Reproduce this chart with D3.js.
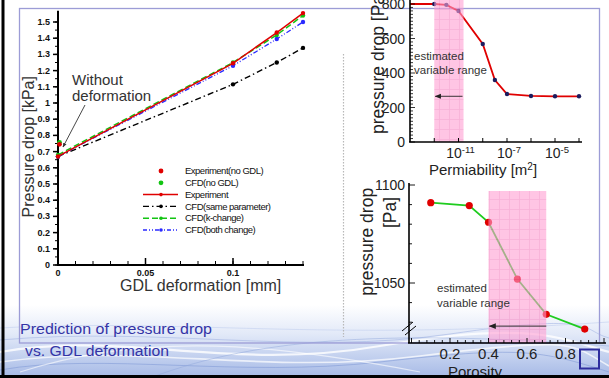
<!DOCTYPE html>
<html>
<head>
<meta charset="utf-8">
<script src="https://cdn.jsdelivr.net/npm/d3@7/dist/d3.min.js"></script>
<style>
  body { margin: 0; background: #fff; }
  svg { display: block; }
  text { font-family: "Liberation Sans", Arial, sans-serif; }
</style>
</head>
<body>
<svg id="slide" width="609" height="378"></svg>
<script>
// left chart: pressure drop [kPa] vs GDL deformation [mm]
const deformation = [0, 0.1, 0.125, 0.14];
const experiment = [0.67, 1.245, 1.435, 1.555];
const cfdSameParam = [0.67, 1.115, 1.25, 1.34];
const cfdKChange = [0.68, 1.25, 1.42, 1.54];
const cfdBothChange = [0.67, 1.23, 1.395, 1.50];
const expNoGdl = 0.745;
const cfdNoGdl = 0.757;
const deformTicks = [0, 0.05, 0.1];
const deformTickLabels = ['0', '0.05', '0.1'];
const kpaTicks = [0, 0.1, 0.2, 0.3, 0.4, 0.5, 0.6, 0.7, 0.8, 0.9, 1, 1.1, 1.2, 1.3, 1.4, 1.5];
const kpaTickLabels = ['0', '0.1', '0.2', '0.3', '0.4', '0.5', '0.6', '0.7', '0.8', '0.9', '1', '1.1', '1.2', '1.3', '1.4', '1.5'];
const legendLabels = ['Experiment(no GDL)', 'CFD(no GDL)', 'Experiment', 'CFD(same parameter)', 'CFD(k-change)', 'CFD(both change)'];

// top right: pressure drop [Pa] vs permeability [m2]
const permeability = [1e-15, 1e-13, 1e-12, 1e-11, 1e-9, 1e-8, 1e-7, 1e-6, 1e-5, 1e-4];
const permDrop = [800, 800, 795, 759, 568, 359, 278, 267, 265, 265];
const permTicks = [1e-13, 1e-11, 1e-9, 1e-7, 1e-6, 1e-5, 1e-4];
const permLabelTicks = [1e-11, 1e-7, 1e-5];
const permLabelExp = ['-11', '-7', '-5'];
const permRange = [1e-13, 2.6e-11];
const permPaTicks = [0, 200, 400, 600, 800];

// bottom right: pressure drop [Pa] vs porosity
const porosity = [0.1, 0.3, 0.4, 0.55, 0.7, 0.9];
const porosityDrop = [1091, 1089.5, 1081, 1052, 1034, 1026.5];
const porosityTicks = [0.2, 0.4, 0.6, 0.8];
const porosityPaTicks = [1050, 1100];
const porosityRange = [0.4, 0.7];

const svg = d3.select('#slide');
const defs = svg.append('defs');

const grad = defs.append('linearGradient').attr('id', 'waveBg')
  .attr('x1', 0).attr('y1', 0).attr('x2', 0).attr('y2', 1);
grad.append('stop').attr('offset', '0%').attr('stop-color', '#ffffff');
grad.append('stop').attr('offset', '40%').attr('stop-color', '#e2e9f8');
grad.append('stop').attr('offset', '100%').attr('stop-color', '#a5b9e6');

const pat = defs.append('pattern').attr('id', 'pinkGrid')
  .attr('width', 10).attr('height', 10).attr('patternUnits', 'userSpaceOnUse');
pat.append('rect').attr('width', 10).attr('height', 10).attr('fill', '#ff9fd2');
pat.append('path').attr('d', 'M9.5 0V10M0 9.5H10').attr('stroke', '#f27cbc').attr('stroke-width', 0.8);

function arrowMarker(id, color, size) {
  defs.append('marker').attr('id', id)
    .attr('viewBox', '0 0 10 10').attr('refX', 9).attr('refY', 5)
    .attr('markerWidth', size).attr('markerHeight', size)
    .attr('orient', 'auto-start-reverse')
    .append('path').attr('d', 'M0,1L10,5L0,9Z').attr('fill', color);
}
arrowMarker('arrDark', '#333', 5);
arrowMarker('arrThin', '#222', 7);

// ---- background waves (bottom of the slide) ----
const bg = svg.append('g');
bg.append('rect').attr('x', 0).attr('y', 305).attr('width', 609).attr('height', 73).attr('fill', 'url(#waveBg)');
const wavePaths = [
  ['M0,352 C120,330 230,372 380,346 S560,338 609,352', '#ffffff', 2.2, 0.8],
  ['M0,362 C140,342 260,376 420,356 S570,344 609,366', '#ffffff', 1.6, 0.7],
  ['M0,340 C160,326 300,356 450,334 S580,330 609,338', '#9fb2e2', 0.7, 0.8],
  ['M0,370 C100,352 240,378 380,362 S540,350 609,372', '#8098d6', 0.7, 0.8],
  ['M20,372 C150,330 280,345 420,372', '#ffffff', 1.2, 0.6],
  ['M150,378 C260,336 400,330 609,346', '#90a6dc', 0.6, 0.8],
  ['M0,328 C180,318 320,342 609,322', '#c5d2ef', 0.8, 0.8]
];
bg.selectAll('path').data(wavePaths).enter().append('path')
  .attr('d', d => d[0]).attr('fill', 'none')
  .attr('stroke', d => d[1]).attr('stroke-width', d => d[2]).attr('opacity', d => d[3]);

// slide frame
svg.append('rect').attr('x', 19.5).attr('y', 8.5).attr('width', 580).attr('height', 334.5)
  .attr('fill', 'none').attr('stroke', '#9c9cd6').attr('stroke-width', 1.3);

// dotted divider
svg.append('line').attr('x1', 343.5).attr('x2', 343.5).attr('y1', 54).attr('y2', 337)
  .attr('stroke', '#b8b8b8').attr('stroke-width', 1.2).attr('stroke-dasharray', '1.5,1.5');

// caption
svg.append('text').attr('x', 20).attr('y', 334).attr('font-family', '"DejaVu Sans Mono", monospace')
  .attr('font-size', 14).attr('fill', '#3434a6').attr('textLength', 192).attr('lengthAdjust', 'spacingAndGlyphs')
  .text('Prediction of pressure drop');
svg.append('text').attr('x', 25).attr('y', 356).attr('font-family', '"DejaVu Sans Mono", monospace')
  .attr('font-size', 14).attr('fill', '#3434a6').attr('textLength', 144).attr('lengthAdjust', 'spacingAndGlyphs')
  .text('vs. GDL deformation');

// ================= LEFT CHART =================
const mx = d3.scaleLinear().domain([0, 0.14]).range([58, 303]);
const my = d3.scaleLinear().domain([0, 1.5]).range([265, 22]);
const left = svg.append('g');

// y axis
left.append('line').attr('x1', mx(0)).attr('x2', mx(0)).attr('y1', my(0) + 1).attr('y2', my(1.57))
  .attr('stroke', '#000').attr('stroke-width', 2);
left.selectAll('.ymin').data(d3.range(0, 31).map(i => i * 0.05)).enter().append('line')
  .attr('x1', mx(0) - 3).attr('x2', mx(0)).attr('y1', d => my(d)).attr('y2', d => my(d))
  .attr('stroke', '#000').attr('stroke-width', 1);
left.selectAll('.ymaj').data(kpaTicks).enter().append('line')
  .attr('x1', mx(0) - 5).attr('x2', mx(0)).attr('y1', d => my(d)).attr('y2', d => my(d))
  .attr('stroke', '#000').attr('stroke-width', 1.5);
left.selectAll('.ylab').data(kpaTicks).enter().append('text')
  .attr('x', mx(0) - 8).attr('y', d => my(d) + 3)
  .attr('text-anchor', 'end').attr('font-family', '"Liberation Serif", serif').attr('font-weight', 'bold')
  .attr('font-size', 9).attr('fill', '#111')
  .text((d, i) => kpaTickLabels[i]);

// x axis
left.append('line').attr('x1', mx(0) - 1).attr('x2', mx(0.14) + 1).attr('y1', my(0)).attr('y2', my(0))
  .attr('stroke', '#000').attr('stroke-width', 2);
left.selectAll('.xmin').data(d3.range(0, 15).map(i => i * 0.01)).enter().append('line')
  .attr('x1', d => mx(d)).attr('x2', d => mx(d)).attr('y1', my(0)).attr('y2', my(0) - 4)
  .attr('stroke', '#000').attr('stroke-width', 1);
left.selectAll('.xmaj').data(deformTicks).enter().append('line')
  .attr('x1', d => mx(d)).attr('x2', d => mx(d)).attr('y1', my(0)).attr('y2', my(0) - 7)
  .attr('stroke', '#000').attr('stroke-width', 1.5);
left.selectAll('.xlab').data(deformTicks).enter().append('text')
  .attr('x', d => mx(d)).attr('y', my(0) + 11)
  .attr('text-anchor', 'middle').attr('font-family', '"Liberation Serif", serif').attr('font-weight', 'bold')
  .attr('font-size', 9).attr('fill', '#111')
  .text((d, i) => deformTickLabels[i]);

left.append('text').attr('x', mx(0.0815)).attr('y', 291).attr('text-anchor', 'middle')
  .attr('font-size', 16).attr('fill', '#333').text('GDL deformation [mm]');
left.append('text').attr('transform', `translate(34,${my(0.73)}) rotate(-90)`).attr('text-anchor', 'middle')
  .attr('font-size', 16).attr('fill', '#333').text('Pressure drop [kPa]');

const mainSeries = [
  { name: 'Experiment', values: experiment, color: '#e00000', dash: null, width: 1.5 },
  { name: 'CFD(same parameter)', values: cfdSameParam, color: '#000000', dash: '6,3,1.5,3', width: 1.4 },
  { name: 'CFD(k-change)', values: cfdKChange, color: '#12c412', dash: '6,3', width: 1.5 },
  { name: 'CFD(both change)', values: cfdBothChange, color: '#2a2aff', dash: '5,2,1,2,1,2', width: 1.3 }
];
const mainLine = d3.line().x((d, i) => mx(deformation[i])).y(d => my(d));
const order = [1, 3, 2, 0];
order.forEach(k => {
  const s = mainSeries[k];
  left.append('path').attr('d', mainLine(s.values)).attr('fill', 'none')
    .attr('stroke', s.color).attr('stroke-width', s.width).attr('stroke-dasharray', s.dash);
  left.selectAll(null).data(s.values).enter().append('circle')
    .attr('cx', (d, i) => mx(deformation[i])).attr('cy', d => my(d)).attr('r', 2.2).attr('fill', s.color);
});
left.append('circle').attr('cx', mx(0) + 1.5).attr('cy', my(cfdNoGdl)).attr('r', 2.4).attr('fill', '#12c412');
left.append('circle').attr('cx', mx(0) + 1.5).attr('cy', my(expNoGdl)).attr('r', 2.4).attr('fill', '#e00000');

// annotation
left.append('text').attr('x', 72).attr('y', 85).attr('font-size', 15).attr('fill', '#333').text('Without');
left.append('text').attr('x', 72).attr('y', 101).attr('font-size', 15).attr('fill', '#333').text('deformation');
left.append('line').attr('x1', 85).attr('y1', 105).attr('x2', 63).attr('y2', 147)
  .attr('stroke', '#333').attr('stroke-width', 0.9).attr('marker-end', 'url(#arrDark)');

// legend
const legendStyles = [
  { color: '#e00000', dash: null, line: false },
  { color: '#12c412', dash: null, line: false },
  { color: '#e00000', dash: null, line: true, width: 1.5 },
  { color: '#000000', dash: '6,3,1.5,3', line: true, width: 1.4 },
  { color: '#12c412', dash: '6,3', line: true, width: 1.5 },
  { color: '#2a2aff', dash: '4,2,1,2,1,2', line: true, width: 1.3 }
];
const legendY = d3.scalePoint().domain(legendLabels).range([171, 230]);
const lg = left.append('g');
legendLabels.forEach((label, i) => {
  const st = legendStyles[i];
  const y = legendY(label);
  if (st.line) {
    lg.append('line').attr('x1', 143).attr('x2', 178).attr('y1', y).attr('y2', y)
      .attr('stroke', st.color).attr('stroke-width', st.width).attr('stroke-dasharray', st.dash);
  }
  lg.append('circle').attr('cx', 161).attr('cy', y).attr('r', st.line ? 1.8 : 2.4).attr('fill', st.color);
  lg.append('text').attr('x', 185).attr('y', y + 3.2)
    .attr('font-family', '"Liberation Sans Narrow", "Liberation Sans", Arial, sans-serif')
    .attr('font-size', 9.5).attr('letter-spacing', -0.5).attr('fill', '#111').text(label);
});

// ================= TOP RIGHT CHART =================
const px = d3.scaleLog().domain([1e-15, 1e-7, 1e-4]).range([410, 507, 579]);
const py = d3.scaleLinear().domain([0, 800]).range([142, 4]);
const tr = svg.append('g');

tr.append('text').attr('transform', 'translate(384,134) rotate(-90)').attr('font-size', 17.5)
  .attr('fill', '#222').text('pressure drop [Pa]');

const permLine = d3.line().x((d, i) => px(permeability[i])).y(d => py(d));
tr.append('path').attr('d', permLine(permDrop)).attr('fill', 'none')
  .attr('stroke', '#e00000').attr('stroke-width', 1.8);
tr.selectAll('.pp').data(permDrop.slice(1)).enter().append('circle')
  .attr('cx', (d, i) => px(permeability[i + 1])).attr('cy', d => py(d)).attr('r', 2.2).attr('fill', '#1c1c5e');

tr.append('rect').attr('x', px(permRange[0])).attr('y', 0)
  .attr('width', px(permRange[1]) - px(permRange[0])).attr('height', py(0))
  .attr('fill', 'url(#pinkGrid)').attr('opacity', 0.6);
tr.append('line').attr('x1', px(permRange[1]) - 1).attr('x2', px(permRange[0]) + 1)
  .attr('y1', py(265)).attr('y2', py(265)).attr('stroke', '#222').attr('stroke-width', 0.9)
  .attr('marker-end', 'url(#arrThin)');
tr.append('text').attr('x', 414).attr('y', 60).attr('font-size', 11.5).attr('fill', '#333').text('estimated');
tr.append('text').attr('x', 414).attr('y', 74).attr('font-size', 11.5).attr('fill', '#333').text('variable range');

// axes
tr.append('line').attr('x1', 410).attr('x2', 410).attr('y1', 0).attr('y2', py(0))
  .attr('stroke', '#000').attr('stroke-width', 1.6);
tr.append('line').attr('x1', 409).attr('x2', 582).attr('y1', py(0)).attr('y2', py(0))
  .attr('stroke', '#000').attr('stroke-width', 1.6);
tr.selectAll('.pymin').data(d3.range(0, 41).map(i => i * 20)).enter().append('line')
  .attr('x1', 410).attr('x2', d => 410 + (d % 200 === 0 ? 5 : 3)).attr('y1', d => py(d)).attr('y2', d => py(d))
  .attr('stroke', '#000').attr('stroke-width', 0.8);
tr.selectAll('.pylab').data(permPaTicks).enter().append('text')
  .attr('x', 405).attr('y', d => py(d) + 5).attr('text-anchor', 'end')
  .attr('font-size', 14).attr('fill', '#222').text(d => d);
tr.selectAll('.pxt').data(permTicks).enter().append('line')
  .attr('x1', d => px(d)).attr('x2', d => px(d)).attr('y1', py(0)).attr('y2', py(0) - 4)
  .attr('stroke', '#000').attr('stroke-width', 1);
const pxl = tr.selectAll('.pxl').data(permLabelTicks).enter().append('text')
  .attr('x', d => px(d) + 2).attr('y', 158).attr('text-anchor', 'middle').attr('fill', '#222');
pxl.append('tspan').attr('font-size', 14).text('10');
pxl.append('tspan').attr('font-size', 9.5).attr('dy', -5).text((d, i) => permLabelExp[i]);
const permTitle = tr.append('text').attr('x', 483).attr('y', 175).attr('text-anchor', 'middle')
  .attr('font-size', 15).attr('fill', '#222');
permTitle.append('tspan').text('Permiability [m');
permTitle.append('tspan').attr('font-size', 10).attr('dy', -5).text('2');
permTitle.append('tspan').attr('dy', 5).text(']');

// ================= BOTTOM RIGHT CHART =================
const qx = d3.scaleLinear().domain([0, 1]).range([411.5, 604]);
const qy = d3.scaleLinear().domain([1050, 1100]).range([283, 185]);
const br = svg.append('g');
const axisY = 343;

br.append('text').attr('transform', `translate(373,${qy(1071)}) rotate(-90)`).attr('text-anchor', 'middle')
  .attr('font-size', 17.5).attr('fill', '#222').text('pressure drop');
br.append('text').attr('transform', `translate(396,${qy(1086)}) rotate(-90)`).attr('text-anchor', 'middle')
  .attr('font-size', 17.5).attr('fill', '#222').text('[Pa]');

const poroLine = d3.line().x((d, i) => qx(porosity[i])).y(d => qy(d));
br.append('path').attr('d', poroLine(porosityDrop)).attr('fill', 'none')
  .attr('stroke', '#1fcc1f').attr('stroke-width', 1.8);
br.selectAll('.qp').data(porosityDrop).enter().append('circle')
  .attr('cx', (d, i) => qx(porosity[i])).attr('cy', d => qy(d)).attr('r', 3.6).attr('fill', '#e00000');

br.append('rect').attr('x', qx(porosityRange[0])).attr('y', 191)
  .attr('width', qx(porosityRange[1]) - qx(porosityRange[0])).attr('height', axisY - 191)
  .attr('fill', 'url(#pinkGrid)').attr('opacity', 0.6);
br.append('line').attr('x1', qx(porosityRange[1])).attr('x2', qx(porosityRange[0]) + 1)
  .attr('y1', qy(1028)).attr('y2', qy(1028)).attr('stroke', '#333').attr('stroke-width', 1)
  .attr('marker-end', 'url(#arrThin)');
br.append('text').attr('x', 437).attr('y', 292).attr('font-size', 11.5).attr('fill', '#333').text('estimated');
br.append('text').attr('x', 437).attr('y', 307).attr('font-size', 11.5).attr('fill', '#333').text('variable range');

// axes
br.append('line').attr('x1', 409).attr('x2', 409).attr('y1', qy(1100) - 2).attr('y2', axisY)
  .attr('stroke', '#000').attr('stroke-width', 1.6);
br.append('line').attr('x1', 408).attr('x2', 606).attr('y1', axisY).attr('y2', axisY)
  .attr('stroke', '#000').attr('stroke-width', 1.6);
br.selectAll('.qymin').data(d3.range(0, 8).map(i => 1030 + i * 10)).enter().append('line')
  .attr('x1', 409).attr('x2', d => 409 + (d % 50 === 0 ? 6 : 3)).attr('y1', d => qy(d)).attr('y2', d => qy(d))
  .attr('stroke', '#000').attr('stroke-width', 0.9);
br.selectAll('.qylab').data(porosityPaTicks).enter().append('text')
  .attr('x', 405).attr('y', d => qy(d) + 5).attr('text-anchor', 'end')
  .attr('font-size', 14).attr('fill', '#222').text(d => d);
br.selectAll('.qxmin').data(d3.range(0, 26).map(i => i * 0.04)).enter().append('line')
  .attr('x1', d => qx(d)).attr('x2', d => qx(d)).attr('y1', axisY).attr('y2', d => axisY - (Math.abs(d * 5 - Math.round(d * 5)) < 1e-6 ? 5 : 3))
  .attr('stroke', '#000').attr('stroke-width', 0.9);
br.selectAll('.qxlab').data(porosityTicks).enter().append('text')
  .attr('x', d => qx(d)).attr('y', 359).attr('text-anchor', 'middle')
  .attr('font-size', 15).attr('fill', '#222').text(d => d.toFixed(1));
br.append('text').attr('x', 475).attr('y', 377).attr('text-anchor', 'middle')
  .attr('font-size', 15).attr('fill', '#222').text('Porosity');
// axis break
br.append('path').attr('d', 'M402,331L413,322M405,335L416,326').attr('stroke', '#000').attr('stroke-width', 1);

// blue square icon
svg.append('rect').attr('x', 580).attr('y', 349.5).attr('width', 19).attr('height', 19)
  .attr('fill', 'none').attr('stroke', '#2e2e9e').attr('stroke-width', 2);

// black slide border
svg.append('line').attr('x1', 3).attr('x2', 3).attr('y1', 0).attr('y2', 378).attr('stroke', '#000').attr('stroke-width', 3);
svg.append('line').attr('x1', 0).attr('x2', 609).attr('y1', 376.5).attr('y2', 376.5).attr('stroke', '#000').attr('stroke-width', 3);
</script>
</body>
</html>
